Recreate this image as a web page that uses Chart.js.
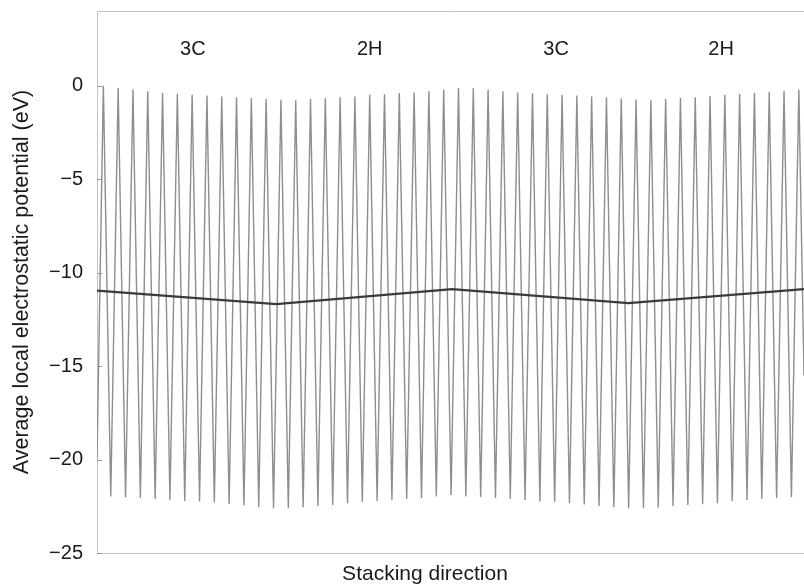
<!DOCTYPE html>
<html>
<head>
<meta charset="utf-8">
<script src="https://cdn.jsdelivr.net/npm/chart.js@4/dist/chart.umd.min.js"></script>
<style>
  html, body { margin: 0; padding: 0; background: #ffffff; }
  #wrap { width: 804px; height: 584px; }
</style>
</head>
<body>
<div id="wrap"><canvas id="c" width="804" height="584"></canvas></div>
<script>
// ---- data ----
// maxima of the oscillating planar potential (one per layer, left to right)
const peakValues = [
  0.0, -0.12, -0.2, -0.3, -0.38, -0.43, -0.48, -0.52, -0.57, -0.62, -0.66, -0.71,
  -0.75, -0.78, -0.7, -0.66, -0.61, -0.57, -0.48, -0.45, -0.39, -0.36, -0.29, -0.2,
  -0.12, -0.14, -0.2, -0.3, -0.36, -0.4, -0.45, -0.5, -0.52, -0.57, -0.62, -0.68,
  -0.73, -0.77, -0.7, -0.64, -0.61, -0.55, -0.48, -0.43, -0.39, -0.34, -0.27, -0.2
];
// minima between consecutive maxima
const troughValues = [
  -21.98, -22.02, -22.06, -22.11, -22.16, -22.22, -22.25, -22.3, -22.38, -22.45, -22.55, -22.61,
  -22.59, -22.55, -22.48, -22.43, -22.34, -22.27, -22.22, -22.16, -22.11, -22.06, -21.98,
  -21.9, -21.98, -22.0, -22.06, -22.11, -22.16, -22.24, -22.27, -22.34, -22.41, -22.48, -22.55,
  -22.61, -22.59, -22.57, -22.48, -22.43, -22.39, -22.34, -22.22, -22.16, -22.11, -22.07, -22.02
];
const startValue = -20.0;   // value where the curve enters at the left edge
const endValue = -15.5;     // value where the curve leaves at the right edge
const xStart = -0.43;       // stacking position of left edge (in layer units)
const xEnd = 47.35;         // stacking position of right edge

// macroscopic (averaged) potential
const avgX = [-0.43, 11.68, 23.57, 35.47, 47.35];
const avgY = [-10.96, -11.68, -10.88, -11.63, -10.88];

// region labels
const regionLabels = ['3C', '2H', '3C', '2H'];
const regionX = [6.05, 18.0, 30.6, 41.75];
const regionY = 1.93;

// y-axis ticks
const yTicks = [-25, -20, -15, -10, -5, 0];
const yMin = -25, yMax = 4;

const xTitle = 'Stacking direction';
const yTitle = 'Average local electrostatic potential (eV)';

// ---- build the series (peaks at layer index k, minima halfway between) ----
const osc = [{x: xStart, y: startValue}];
for (let k = 0; k < peakValues.length; k++) {
  osc.push({x: k, y: peakValues[k]});
  if (k < troughValues.length) osc.push({x: k + 0.5, y: troughValues[k]});
}
osc.push({x: xEnd, y: endValue});
const avg = avgX.map((x, i) => ({x, y: avgY[i]}));

const FONT = '"Liberation Sans", Arial, Helvetica, sans-serif';
const fmt = v => (v < 0 ? '\u2212' + Math.abs(v) : String(v));

const decor = {
  id: 'decor',
  beforeDatasetsDraw(chart) {
    const {ctx, chartArea: a} = chart;
    ctx.save();
    ctx.strokeStyle = '#c4c4c4';
    ctx.lineWidth = 1;
    ctx.beginPath();
    ctx.moveTo(a.left, a.top + 0.5);
    ctx.lineTo(a.right, a.top + 0.5);
    ctx.stroke();
    // inward tick marks on the y axis
    const ys = chart.scales.y;
    ctx.strokeStyle = '#9a9a9a';
    yTicks.forEach(v => {
      const py = Math.round(ys.getPixelForValue(v)) + 0.5;
      ctx.beginPath();
      ctx.moveTo(a.left, py);
      ctx.lineTo(a.left + 5, py);
      ctx.stroke();
    });
    ctx.restore();
  },
  afterDatasetsDraw(chart) {
    const {ctx, chartArea: a} = chart;
    const xs = chart.scales.x, ys = chart.scales.y;
    ctx.save();
    ctx.fillStyle = '#1a1a1a';
    ctx.font = '20px ' + FONT;
    ctx.textAlign = 'center';
    ctx.textBaseline = 'middle';
    regionLabels.forEach((t, i) => {
      ctx.fillText(t, xs.getPixelForValue(regionX[i]), ys.getPixelForValue(regionY));
    });
    ctx.font = '21px ' + FONT;
    ctx.textBaseline = 'middle';
    ctx.fillText(xTitle, 425, a.bottom + 21);
    ctx.restore();
  }
};

new Chart(document.getElementById('c'), {
  type: 'line',
  data: {
    datasets: [
      {
        data: avg, borderColor: '#3a3a3a', borderWidth: 2.2, pointRadius: 0,
        tension: 0, fill: false
      },
      {
        data: osc, borderColor: '#8e8e8e', borderWidth: 1.4, pointRadius: 0,
        tension: 0, fill: false
      }
    ]
  },
  options: {
    responsive: false,
    animation: false,
    devicePixelRatio: 1,
    layout: { padding: { top: 11, left: 0, right: 0, bottom: 0 } },
    plugins: { legend: { display: false }, tooltip: { enabled: false } },
    scales: {
      x: {
        type: 'linear', min: xStart, max: xEnd,
        grid: { display: false, drawTicks: false },
        border: { display: true, color: '#c4c4c4', width: 1 },
        ticks: { display: false },
        afterFit(s) { s.height = 31; s.paddingLeft = 0; s.paddingRight = 0; }
      },
      y: {
        type: 'linear', min: yMin, max: yMax,
        afterBuildTicks(s) { s.ticks = yTicks.map(v => ({value: v})); },
        grid: { display: false, drawTicks: false },
        border: { display: true, color: '#c4c4c4', width: 1 },
        ticks: {
          padding: 14, color: '#1a1a1a',
          font: { family: FONT, size: 20 },
          callback: v => fmt(v)
        },
        title: {
          display: true, text: yTitle, color: '#1a1a1a',
          font: { family: FONT, size: 21.5 },
          padding: { top: 9, bottom: 0 }
        },
        afterFit(s) { s.width = 97; s.paddingTop = 0; s.paddingBottom = 0; }
      }
    }
  },
  plugins: [decor]
});
</script>
</body>
</html>
